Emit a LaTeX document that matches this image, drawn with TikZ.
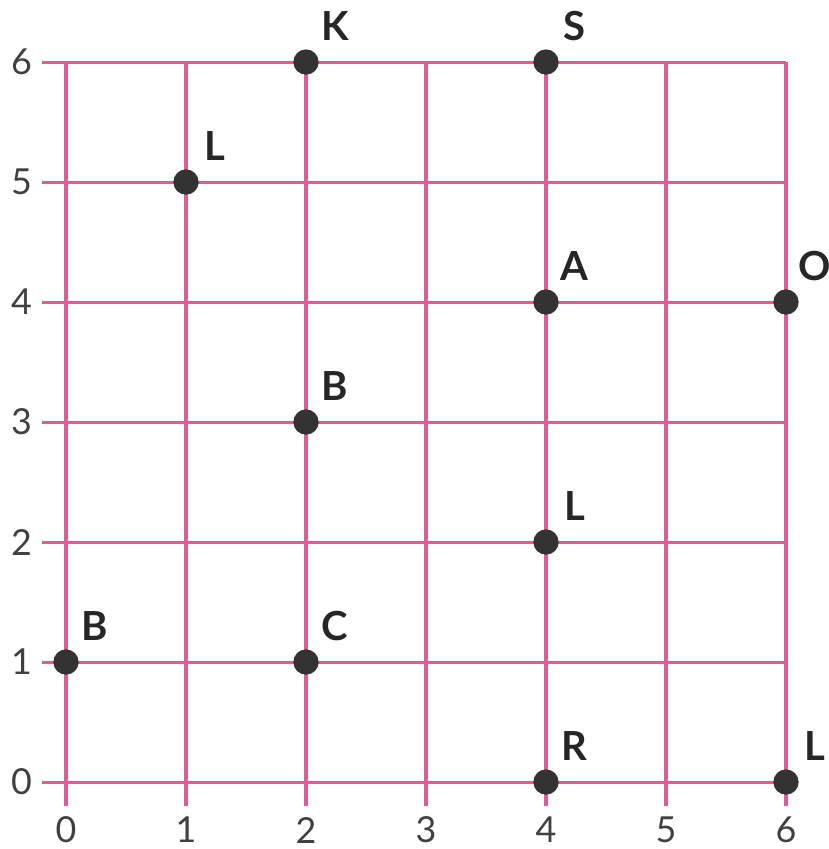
\documentclass[tikz,border=0pt]{standalone}
\usepackage{fontspec}
\setmainfont{Lato}
\definecolor{gridpink}{HTML}{E05C92}
\definecolor{dotgray}{HTML}{333333}
\begin{document}
\begin{tikzpicture}[x=1cm,y=1cm,
  gridline/.style={draw=gridpink,line width=0.72pt},
  pt/.style={circle,fill=dotgray,draw=black!80,line width=0.3pt,inner sep=0pt,minimum size=0.2cm},
  lbl/.style={font=\fontsize{9.5}{10}\selectfont\bfseries,text=black!85,xshift=0.24cm,yshift=0.3cm},
  num/.style={font=\fontsize{8.5}{9}\selectfont,text=black!75}]
\useasboundingbox (-0.55,-0.558) rectangle (6.358,6.517);
% grid
\foreach \y in {0,...,6} \draw[gridline] (-0.2,\y) -- (6,\y);
\foreach \x in {0,...,6} \draw[gridline] (\x,-0.2) -- (\x,6);
% axis numbers
\foreach \y in {0,...,6} \node[num] (ny\y) at (-0.37,\y) {\y};
\foreach \x in {0,...,6} \node[num] (nx\x) at (\x,-0.4) {\x};
% points
\foreach \n/\p/\t in {k/{2,6}/K, s/{4,6}/S, l1/{1,5}/L, a/{4,4}/A, o/{6,4}/O, b1/{2,3}/B, l2/{4,2}/L, b2/{0,1}/B, c/{2,1}/C, r/{4,0}/R, l3/{6,0}/L}{
  \node[pt] (\n) at (\p) {};
  \node[lbl] (t\n) at (\p) {\t};
}
\end{tikzpicture}
\end{document}
